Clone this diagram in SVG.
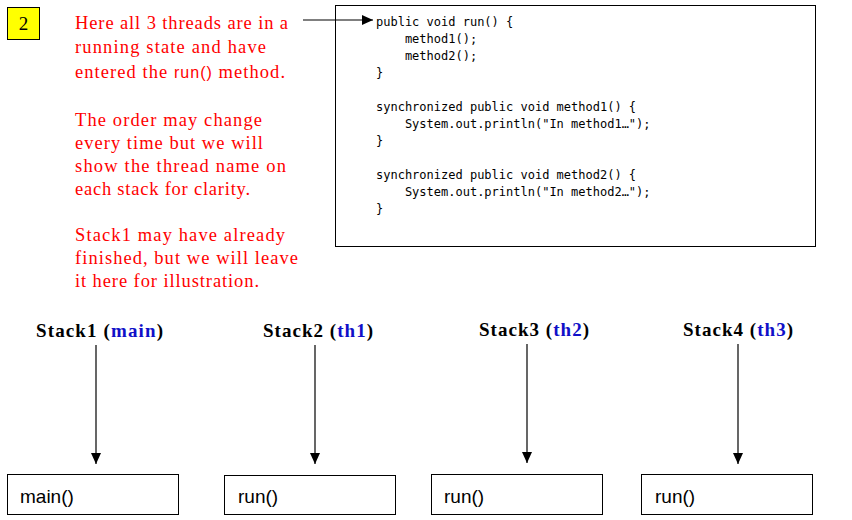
<svg xmlns="http://www.w3.org/2000/svg" width="852" height="520" viewBox="0 0 852 520">
<style>
.note{font-family:"Liberation Serif","Times New Roman",serif;font-size:18.5px;fill:#ff0000}
.sans{font-family:"Liberation Sans",Arial,sans-serif;font-size:16px;fill:#ff0000}
.code{font-family:"DejaVu Sans Mono","Liberation Mono",monospace;font-size:12px;fill:#000;white-space:pre}
.title{font-family:"Liberation Serif","Times New Roman",serif;font-size:19px;font-weight:bold;fill:#000}
.blue{fill:#1010c8}
.box{fill:#fff;stroke:#000;stroke-width:1}
.frame{font-family:"Liberation Sans",Arial,sans-serif;font-size:19px;fill:#000}
.conn{stroke:#000;stroke-width:1.2;fill:none;marker-end:url(#ah)}
</style>
<defs>
<marker id="ah" markerWidth="11" markerHeight="10" refX="11" refY="5" orient="auto" markerUnits="userSpaceOnUse">
<path d="M0,0 L11,5 L0,10 Z" fill="#000"/>
</marker>
</defs>
<rect width="852" height="520" fill="#fff"/>
<g id="step">
<rect x="7.5" y="7.5" width="32" height="32" fill="#ffff00" stroke="#000" stroke-width="1"/>
<text x="23.5" y="30" text-anchor="middle" style="font-family:'Liberation Serif','Times New Roman',serif;font-size:19px;fill:#000">2</text>
</g>
<g id="note">
<text class="note" x="75" y="29" textLength="213" lengthAdjust="spacing">Here all 3 threads are in a</text>
<text class="note" x="75" y="53" textLength="191" lengthAdjust="spacing">running state and have</text>
<text class="note" x="75" y="78" textLength="210" lengthAdjust="spacing">entered the <tspan class="sans">run()</tspan> method.</text>
<text class="note" x="75" y="126" textLength="187" lengthAdjust="spacing">The order may change</text>
<text class="note" x="75" y="149" textLength="188" lengthAdjust="spacing">every time but we will</text>
<text class="note" x="75" y="172" textLength="211" lengthAdjust="spacing">show the thread name on</text>
<text class="note" x="75" y="195" textLength="175" lengthAdjust="spacing">each stack for clarity.</text>
<text class="note" x="75" y="241" textLength="210" lengthAdjust="spacing">Stack1 may have already</text>
<text class="note" x="75" y="264" textLength="223" lengthAdjust="spacing">finished, but we will leave</text>
<text class="note" x="75" y="287" textLength="184" lengthAdjust="spacing">it here for illustration.</text>
</g>
<g id="code">
<rect class="box" x="335.5" y="5.5" width="480" height="241"/>
<text class="code" x="376" y="26">public void run() {</text>
<text class="code" x="376" y="43">    method1();</text>
<text class="code" x="376" y="60">    method2();</text>
<text class="code" x="376" y="77">}</text>
<text class="code" x="376" y="111">synchronized public void method1() {</text>
<text class="code" x="376" y="128">    System.out.println("In method1…");</text>
<text class="code" x="376" y="145">}</text>
<text class="code" x="376" y="179">synchronized public void method2() {</text>
<text class="code" x="376" y="196">    System.out.println("In method2…");</text>
<text class="code" x="376" y="213">}</text>
</g>
<g id="stack1">
<text class="title" x="36" y="337" textLength="127" lengthAdjust="spacing">Stack1 (<tspan class="blue">main</tspan>)</text>
<rect class="box" x="7.5" y="474.5" width="171" height="40"/>
<text class="frame" x="20" y="503">main()</text>
</g>
<g id="stack2">
<text class="title" x="263" y="337" textLength="110" lengthAdjust="spacing">Stack2 (<tspan class="blue">th1</tspan>)</text>
<rect class="box" x="224.5" y="475.5" width="171" height="39"/>
<text class="frame" x="238" y="503">run()</text>
</g>
<g id="stack3">
<text class="title" x="479" y="336" textLength="110" lengthAdjust="spacing">Stack3 (<tspan class="blue">th2</tspan>)</text>
<rect class="box" x="431.5" y="474.5" width="171" height="40"/>
<text class="frame" x="444" y="503">run()</text>
</g>
<g id="stack4">
<text class="title" x="683" y="336" textLength="110" lengthAdjust="spacing">Stack4 (<tspan class="blue">th3</tspan>)</text>
<rect class="box" x="641.5" y="474.5" width="171" height="40"/>
<text class="frame" x="655" y="503">run()</text>
</g>
<g id="connectors">
<line class="conn" x1="303" y1="20" x2="373" y2="20"/>
<line class="conn" x1="96" y1="345" x2="96" y2="464"/>
<line class="conn" x1="315" y1="345" x2="315" y2="464"/>
<line class="conn" x1="527" y1="344" x2="527" y2="463"/>
<line class="conn" x1="738" y1="344" x2="738" y2="464"/>
</g>
</svg>
